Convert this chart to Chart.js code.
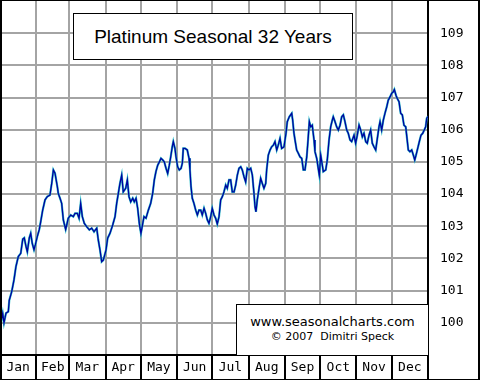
<!DOCTYPE html>
<html>
<head>
<meta charset="utf-8">
<script src="https://cdn.jsdelivr.net/npm/chart.js@4.4.1/dist/chart.umd.min.js"></script>
<style>
  body { margin: 0; background: #fff; }
  #wrap { position: relative; width: 480px; height: 380px; }
  #frame {
    position: absolute; left: 0; top: 0; width: 480px; height: 380px;
    box-sizing: border-box; border: 1px solid #000; border-left-width: 2px; border-right-width: 2px;
    pointer-events: none;
  }
  .box { position: absolute; background: #fff; border: 1px solid #000; box-sizing: border-box; text-align: center; color: #000; }
  #title { left: 73px; top: 13px; width: 280px; height: 47px; font: 19px "Liberation Sans", Arial, sans-serif; line-height: 45px; }
  #credit { left: 236px; top: 304px; width: 193px; height: 52px; font-family: "DejaVu Sans", sans-serif; padding-top: 9px; }
  #credit .l1 { font-size: 13px; line-height: 16px; }
  #credit .l2 { font-size: 11px; line-height: 14px; }
</style>
</head>
<body>
<div id="wrap">
  <canvas id="seasonalChart" width="480" height="380"></canvas>
  <div class="box" id="title">Platinum Seasonal 32 Years</div>
  <div class="box" id="credit"><div class="l1">www.seasonalcharts.com</div><div class="l2">© 2007&nbsp; Dimitri Speck</div></div>
  <div id="frame"></div>
</div>
<script>
// month names and where each month starts (day of year)
const monthNames = ['Jan', 'Feb', 'Mar', 'Apr', 'May', 'Jun', 'Jul', 'Aug', 'Sep', 'Oct', 'Nov', 'Dec'];
const monthStarts = [0, 31, 59, 90, 120, 151, 181, 212, 243, 273, 304, 334, 365];
const yTicks = [100, 101, 102, 103, 104, 105, 106, 107, 108, 109];

// seasonal pattern (day of year / index value)
const days = [
  0.9, 2.3, 3.4, 5.1, 7.1, 7.9, 10.0, 11.9, 13.6, 15.6,
  17.7, 19.4, 20.7, 22.2, 23.3, 25.0, 26.2, 27.5, 29.0, 30.1,
  31.8, 33.5, 34.7, 36.4, 38.4, 40.3, 42.6, 44.1, 45.5, 46.9,
  48.9, 49.7, 51.2, 52.6, 54.0, 56.0, 56.9, 58.2, 60.3, 62.5,
  64.0, 65.9, 67.4, 68.8, 70.2, 71.9, 73.9, 76.2, 78.2, 80.2,
  82.5, 83.8, 85.3, 86.7, 88.1, 90.4, 91.8, 93.8, 96.1, 98.1,
  99.5, 100.9, 102.3, 103.8, 105.1, 107.2, 108.6, 110.0, 111.5, 113.2,
  114.5, 116.0, 117.4, 118.8, 120.2, 122.8, 124.5, 126.5, 128.5, 130.2,
  131.6, 133.0, 134.5, 135.9, 137.3, 138.8, 140.1, 141.6, 143.0, 144.4,
  145.6, 146.9, 147.8, 149.2, 150.1, 151.5, 152.9, 154.4, 155.5, 156.3,
  157.8, 159.7, 161.2, 162.0, 162.9, 164.0, 165.4, 166.9, 168.3, 169.7,
  171.2, 172.5, 174.0, 175.4, 176.8, 178.2, 179.7, 181.0, 182.5, 183.9,
  185.3, 186.8, 188.2, 189.6, 191.0, 192.5, 193.8, 195.3, 196.7, 198.1,
  199.6, 201.0, 202.4, 203.8, 205.3, 206.6, 208.1, 209.5, 210.9, 212.3,
  213.8, 215.2, 216.6, 217.5, 218.3, 219.4, 220.9, 222.3, 223.7, 225.1,
  226.6, 227.4, 228.8, 230.3, 231.7, 233.1, 234.5, 236.0, 237.3, 238.8,
  240.2, 242.2, 243.9, 245.0, 246.7, 248.8, 249.6, 250.7, 251.6, 253.0,
  254.4, 255.8, 257.3, 258.7, 260.1, 261.6, 262.7, 263.8, 265.0, 266.3,
  267.8, 268.6, 270.1, 271.4, 272.3, 273.5, 274.6, 275.7, 277.8, 279.1,
  280.6, 282.0, 283.4, 284.2, 285.7, 287.1, 288.5, 290.0, 291.4, 292.8,
  294.2, 295.7, 297.0, 298.5, 299.9, 301.9, 303.3, 304.7, 306.2, 307.6,
  309.0, 310.4, 311.9, 313.2, 314.7, 316.1, 317.5, 318.9, 320.4, 321.8,
  323.2, 324.1, 325.5, 326.9, 328.3, 329.8, 331.1, 332.6, 334.0, 335.4,
  336.3, 337.7, 338.8, 340.3, 341.7, 343.1, 344.5, 346.0, 347.1, 348.2,
  349.6, 351.1, 352.5, 353.7, 354.8, 356.2, 357.6, 359.0, 360.5, 361.8,
  363.0, 363.9, 365.0
];
const values = [
  100.04, 100.3, 100.0, 100.3, 100.35, 100.7, 100.97, 101.33, 101.75, 102.06,
  102.16, 102.6, 102.64, 102.37, 102.21, 102.64, 102.78, 102.47, 102.27, 102.42,
  102.68, 102.9, 103.14, 103.5, 103.82, 103.92, 103.97, 104.33, 104.75, 104.65,
  104.23, 104.02, 103.87, 103.71, 103.2, 102.9, 103.04, 103.25, 103.35, 103.3,
  103.4, 103.4, 103.25, 103.71, 103.3, 103.09, 102.99, 102.89, 102.94, 102.83,
  102.94, 102.58, 102.26, 101.9, 101.95, 102.26, 102.63, 102.78, 103.04, 103.3,
  103.71, 104.02, 104.33, 104.59, 104.07, 104.18, 104.44, 103.92, 103.76, 103.87,
  103.76, 103.87, 103.56, 103.09, 102.78, 103.3, 103.25, 103.5, 103.71, 104.02,
  104.44, 104.7, 104.9, 105.0, 105.11, 105.06, 105.0, 104.8, 104.64, 104.9,
  105.16, 105.47, 105.63, 105.42, 105.16, 104.85, 104.75, 104.8, 104.96, 105.42,
  105.42, 105.37, 105.11, 104.75, 104.23, 103.87, 103.71, 103.5, 103.35, 103.5,
  103.5, 103.35, 103.56, 103.4, 103.2, 103.09, 103.3, 103.56, 103.35, 103.25,
  103.07, 103.3, 103.82, 103.92, 104.07, 104.28, 104.18, 104.44, 104.44, 104.07,
  104.07, 104.28, 104.59, 104.8, 104.85, 104.75, 104.54, 104.38, 104.8, 104.75,
  104.8, 104.59, 104.02, 103.6, 103.45, 103.82, 104.18, 104.49, 104.33, 104.18,
  104.33, 104.75, 105.21, 105.37, 105.47, 105.52, 105.63, 105.37, 105.52, 105.73,
  105.42, 105.47, 105.89, 106.25, 106.4, 106.51, 106.3, 105.89, 105.68, 105.37,
  105.27, 105.16, 105.11, 104.75, 104.75, 105.16, 105.68, 106.25, 106.09, 106.14,
  105.68, 105.32, 105.11, 104.8, 104.59, 105.21, 104.96, 104.7, 104.75, 105.06,
  105.68, 106.09, 106.3, 106.4, 106.25, 106.09, 105.99, 106.14, 106.4, 106.46,
  106.25, 105.99, 105.89, 105.68, 105.63, 105.83, 105.58, 105.83, 106.14, 105.99,
  105.78, 105.89, 105.63, 105.58, 105.83, 105.99, 105.58, 105.47, 105.37, 105.73,
  106.09, 106.25, 105.99, 106.3, 106.51, 106.71, 106.92, 107.02, 107.13, 107.18,
  107.25, 107.07, 106.97, 106.87, 106.51, 106.46, 106.14, 106.09, 105.73, 105.37,
  105.32, 105.37, 105.21, 105.06, 105.21, 105.42, 105.63, 105.83, 105.89, 105.99,
  106.09, 106.35, 106.42
];

// label positions sit in the middle of each month
const monthMids = monthNames.map((m, i) => (monthStarts[i] + monthStarts[i + 1]) / 2);
const points = days.map((d, i) => ({ x: d, y: values[i] }));

const isBoundary = v => monthStarts.includes(v);
const isInner = v => isBoundary(v) && v > 0 && v < 365;

// no extra room for edge labels, the plot fills the frame
function noPad(s) {
  s.paddingTop = 0; s.paddingBottom = 0; s.paddingLeft = 0; s.paddingRight = 0;
}

const ctx = document.getElementById('seasonalChart').getContext('2d');
const chart = new Chart(ctx, {
  type: 'line',
  data: {
    datasets: [
      { data: points, borderColor: '#0000a0', borderWidth: 1.3, pointRadius: 0, tension: 0, order: 0 },
      { data: points, borderColor: '#30c0c8', borderWidth: 2.2, pointRadius: 0, tension: 0, order: 1 }
    ]
  },
  options: {
    responsive: false,
    animation: false,
    layout: { padding: { left: 0, top: 1, right: 0, bottom: 0 } },
    plugins: { legend: { display: false }, tooltip: { enabled: false } },
    scales: {
      x: {
        type: 'linear',
        min: 0,
        max: 365,
        afterBuildTicks: s => {
          s.ticks = monthStarts.concat(monthMids).sort((a, b) => a - b).map(v => ({ value: v }));
        },
        afterFit: s => { s.height = 25; noPad(s); },
        grid: {
          color: c => (c.tick && isInner(c.tick.value)) ? '#a4a4a4' : 'transparent',
          tickColor: c => (c.tick && isBoundary(c.tick.value)) ? '#000' : 'transparent',
          lineWidth: 2,
          tickWidth: 2,
          tickLength: 25
        },
        border: { display: true, color: '#000', width: 2 },
        ticks: {
          autoSkip: false,
          maxRotation: 0,
          padding: -20,
          color: '#000',
          font: { family: 'DejaVu Sans Mono', size: 13 },
          callback: v => {
            const i = monthMids.indexOf(v);
            return i >= 0 ? monthNames[i] : '';
          }
        }
      },
      y: {
        position: 'right',
        min: 99,
        max: 110,
        afterBuildTicks: s => { s.ticks = yTicks.map(v => ({ value: v })); },
        afterFit: s => { s.width = 52; noPad(s); },
        grid: { color: '#a4a4a4', lineWidth: 2, drawTicks: false },
        border: { display: true, color: '#000', width: 2 },
        ticks: {
          padding: 12,
          color: '#000',
          font: { family: 'DejaVu Sans Mono', size: 13 }
        }
      }
    }
  }
});
</script>
</body>
</html>
